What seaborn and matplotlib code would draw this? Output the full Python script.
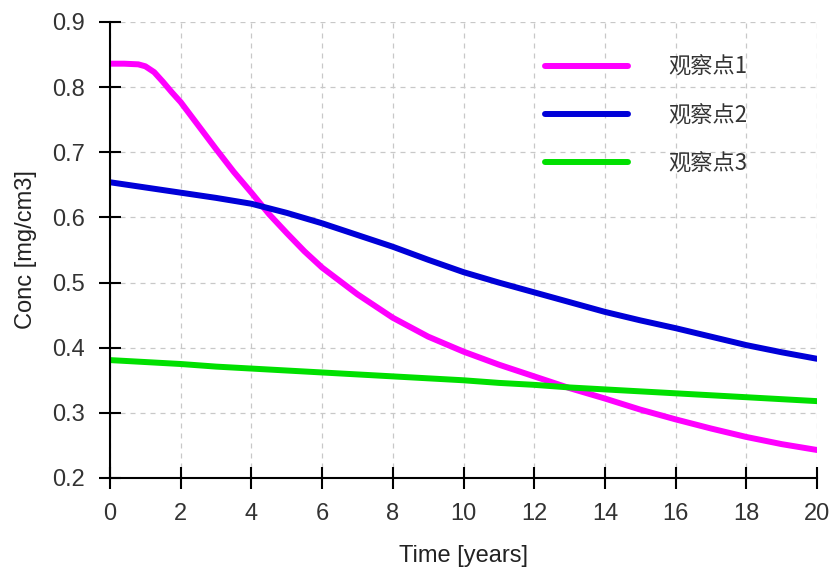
import numpy as np
import pandas as pd
import matplotlib
matplotlib.use("Agg")
import matplotlib.pyplot as plt
import seaborn as sns

# Data
time_p1 = [0, 0.4, 0.8, 1.0, 1.25, 1.5, 1.75, 2, 2.5, 3, 3.5, 4, 4.5, 5, 5.5, 6, 7, 8, 9, 10, 11, 12, 13, 14, 15, 16, 17, 18, 19, 20]
conc_p1 = [0.836, 0.836, 0.835, 0.832, 0.823, 0.808, 0.792, 0.777, 0.741, 0.705, 0.670, 0.638, 0.605, 0.576, 0.548, 0.523, 0.482, 0.446, 0.417, 0.394, 0.374, 0.356, 0.338, 0.322, 0.305, 0.290, 0.276, 0.263, 0.252, 0.243]
time_p23 = [0, 1, 2, 3, 4, 5, 6, 7, 8, 9, 10, 11, 12, 13, 14, 15, 16, 17, 18, 19, 20]
conc_p2 = [0.654, 0.646, 0.638, 0.630, 0.621, 0.607, 0.591, 0.573, 0.555, 0.535, 0.516, 0.500, 0.485, 0.470, 0.455, 0.442, 0.430, 0.417, 0.404, 0.393, 0.383]
conc_p3 = [0.381, 0.378, 0.375, 0.371, 0.368, 0.365, 0.362, 0.359, 0.356, 0.353, 0.350, 0.346, 0.343, 0.339, 0.336, 0.333, 0.330, 0.327, 0.324, 0.321, 0.318]
series_names = ["观察点1", "观察点2", "观察点3"]
series_colors = ["#ff00ff", "#0000d8", "#00e000"]
x_ticks = [0, 2, 4, 6, 8, 10, 12, 14, 16, 18, 20]
y_ticks = [0.2, 0.3, 0.4, 0.5, 0.6, 0.7, 0.8, 0.9]

df = pd.DataFrame({
    "time": time_p1 + time_p23 + time_p23,
    "conc": conc_p1 + conc_p2 + conc_p3,
    "series": [series_names[0]] * len(time_p1) + [series_names[1]] * len(time_p23) + [series_names[2]] * len(time_p23),
})

sns.set_theme(style="white")
plt.rcParams['font.family'] = ['Liberation Sans', 'Noto Sans CJK SC', 'DejaVu Sans']

fig = plt.figure(figsize=(8.3, 5.73), dpi=100)
ax = fig.add_axes([110 / 830, 1 - 478 / 573, 707 / 830, 456 / 573])

sns.lineplot(data=df, x="time", y="conc", hue="series", hue_order=series_names,
             palette=series_colors, linewidth=4.3, ax=ax, legend=True)

ax.set_xlim(0, 20)
ax.set_ylim(0.2, 0.9)
ax.set_xticks(x_ticks)
ax.set_yticks(y_ticks)
ax.set_xticklabels([str(t) for t in x_ticks])
ax.set_yticklabels([f"{t:.1f}" for t in y_ticks])
ax.grid(True, linestyle=(0, (4, 4)), color="#c8c8c8", linewidth=0.9)

for s in ["top", "right"]:
    ax.spines[s].set_visible(False)
for s in ["left", "bottom"]:
    ax.spines[s].set_color("black")
    ax.spines[s].set_linewidth(1.5)

ax.tick_params(axis="both", which="major", bottom=True, left=True, direction="inout",
               length=16, width=1.5, colors="black",
               labelsize=17, labelcolor="#333333", pad=10)
ax.set_xlabel("Time [years]", fontsize=17, color="#222222")
ax.set_ylabel("Conc [mg/cm3]", fontsize=17, color="#222222")
ax.xaxis.set_label_coords(0.5, (478 - 545) / 456)
ax.yaxis.set_label_coords((37 - 110) / 707, 0.5)

leg = ax.legend(loc="upper left", bbox_to_anchor=((545 - 110) / 707, (478 - 56) / 456),
                frameon=False, borderpad=0, borderaxespad=0,
                handlelength=3.75, handletextpad=1.8, labelspacing=1.13,
                prop={'family': ['Noto Sans CJK SC', 'DejaVu Sans'], 'size': 16})
for line in leg.get_lines():
    line.set_linewidth(4.3)
for t in leg.get_texts():
    t.set_color("#333333")

fig.savefig("out.png", dpi=100)
